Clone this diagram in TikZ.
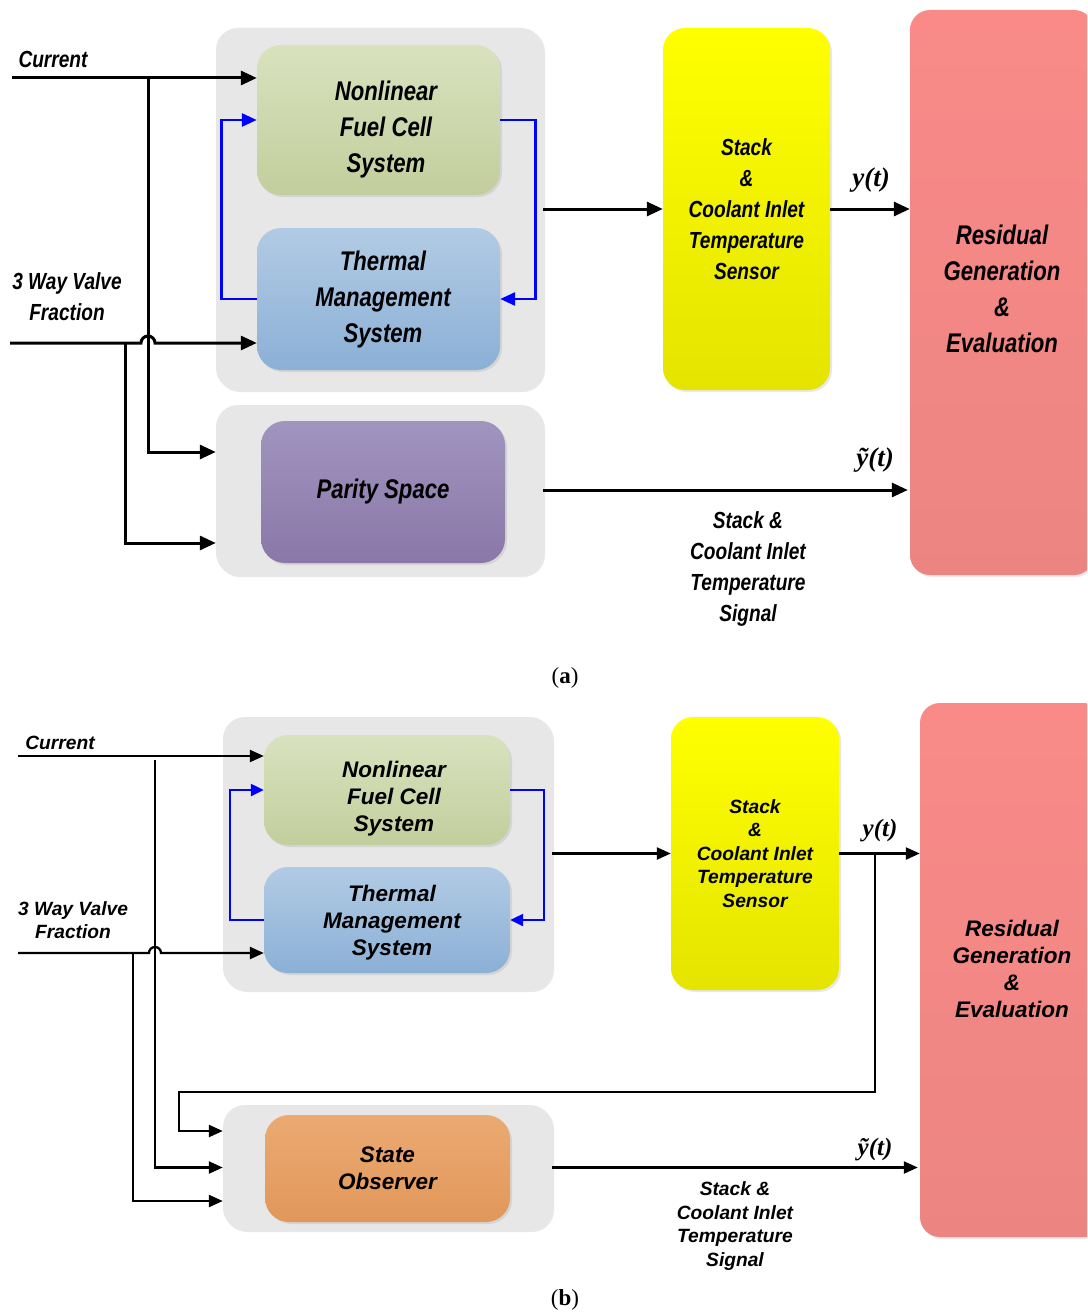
\documentclass[tikz,border=0pt]{standalone}
\usepackage{fontspec}
\setmainfont{Liberation Serif}
\newfontfamily\narrowsans{Liberation Sans}[FakeStretch=0.82]
\newfontfamily\widesans{Liberation Sans}
\usetikzlibrary{arrows.meta,calc,shadows}
\definecolor{contgray}{HTML}{E7E7E7}
\definecolor{grtop}{HTML}{D8E2BE}
\definecolor{grbot}{HTML}{C3CE9D}
\definecolor{bltop}{HTML}{B2CBE4}
\definecolor{blbot}{HTML}{8BB0D6}
\definecolor{putop}{HTML}{A194BF}
\definecolor{pubot}{HTML}{8A78A8}
\definecolor{yetop}{HTML}{FFFF00}
\definecolor{yebot}{HTML}{E4E400}
\definecolor{retop}{HTML}{F98A88}
\definecolor{rebot}{HTML}{EC8582}
\definecolor{ortop}{HTML}{EAAA72}
\definecolor{orbot}{HTML}{E2975A}
\definecolor{fbblue}{HTML}{0000FF}
\newcommand\fAbig{\narrowsans\bfseries\itshape\fontsize{27}{36}\selectfont}
\newcommand\fAsml{\narrowsans\bfseries\itshape\fontsize{23.3}{31}\selectfont}
\newcommand\fBbig{\widesans\bfseries\itshape\fontsize{22.5}{27}\selectfont}
\newcommand\fBsml{\widesans\bfseries\itshape\fontsize{19.2}{23.5}\selectfont}
\newcommand\fYlab{\rmfamily\bfseries\itshape\fontsize{27}{30}\selectfont}
\tikzset{
  cont/.style={fill=contgray, rounded corners=22pt, inner sep=0pt,
    drop shadow={shadow xshift=2pt, shadow yshift=-2pt, opacity=0.18}},
  blk/.style={rounded corners=24pt, inner sep=0pt, align=center,
    drop shadow={shadow xshift=2pt, shadow yshift=-2pt, opacity=0.18}},
  greenb/.style={blk, top color=grtop, bottom color=grbot},
  blueb/.style={blk, top color=bltop, bottom color=blbot},
  purpb/.style={blk, top color=putop, bottom color=pubot},
  yelb/.style={blk, top color=yetop, bottom color=yebot, rounded corners=22pt},
  redb/.style={blk, top color=retop, bottom color=rebot, rounded corners=20pt},
  orab/.style={blk, top color=ortop, bottom color=orbot},
  txtA/.style={font=\fAbig, align=center, inner sep=0pt},
  txtB/.style={font=\fBbig, align=center, inner sep=0pt},
  connA/.style={line width=3pt, -{Triangle[length=16pt,width=14pt]}},
  fbA/.style={line width=2.7pt, draw=fbblue, -{Triangle[length=15pt,width=13pt,fill=fbblue]}},
  connB/.style={line width=2.3pt, -{Triangle[length=14pt,width=12pt]}},
  fbB/.style={line width=2.3pt, draw=fbblue, -{Triangle[length=13pt,width=12pt,fill=fbblue]}},
  lblA/.style={font=\fAsml, align=center, inner sep=0pt},
  lblB/.style={font=\fBsml, align=center, inner sep=0pt},
  ylab/.style={font=\fYlab, inner sep=0pt},
  capt/.style={font=\rmfamily\fontsize{23}{26}\selectfont, inner sep=0pt}
}
\begin{document}
\begin{tikzpicture}[x=1pt,y=-1pt]
\useasboundingbox (0,0) rectangle (1087,1316);
\fill[white] (0,0) rectangle (1087,1316);

% ================= (a) =================
\node[cont, minimum width=327, minimum height=362] (cA1) at (379.5,209) {};
\node[cont, minimum width=327, minimum height=170] (cA2) at (379.5,490) {};
\node[greenb, minimum width=243, minimum height=150] (nfcA) at (378.5,120) {};
\node[txtA] (nfcAt) at (386,130) {Nonlinear\\Fuel Cell\\System};
\node[blueb, minimum width=243, minimum height=142] (tmsA) at (378.5,299) {};
\node[txtA] (tmsAt) at (383,300) {Thermal\\Management\\System};
\node[purpb, minimum width=244, minimum height=142, font=\fAbig] (psA) at (383,492) {Parity Space};
\node[yelb, minimum width=167, minimum height=362, font=\fAsml] (sensA) at (746.5,209) {Stack\\\&\\Coolant Inlet\\Temperature\\Sensor};
\begin{scope}
\clip (0,0) rectangle (1087,1316);
\node[redb, minimum width=184, minimum height=565] (resA) at (1002,292.5) {};
\end{scope}
\node[txtA] (resAt) at (1002,289) {Residual\\Generation\\\&\\Evaluation};

\coordinate (inCurA) at (12,78);
\coordinate (inValA) at (10,343);
\coordinate (brA) at (148,78);
\coordinate (brA2) at (125,343);

\node[lblA, anchor=base] (curA) at (53,68) {Current};
\node[lblA] (valA) at (67,297) {3 Way Valve\\Fraction};

\draw[connA] (inCurA) -- (inCurA -| nfcA.west);
\draw[connA] (brA) |- ($(cA2.west)+(0,-38)$);
\draw[connA] (inValA) -- ($(brA |- inValA)+(-7,0)$) arc[start angle=180, end angle=360, radius=7] -- (inValA -| tmsA.west);
\draw[connA] (brA2) |- ($(cA2.west)+(0,53)$);
\draw[fbA] (tmsA.west) -- ++(-35,0) |- (nfcA.west);
\draw[fbA] (nfcA.east) -- ++(35,0) |- (tmsA.east);
\draw[connA] (cA1.east) -- (sensA.west);
\draw[connA] (sensA.east) -- (sensA.east -| resA.west);
\draw[connA] (cA2.east) -- ($(cA2.east -| resA.west)+(-2,0)$);

\node[ylab] (yA) at (871,180) {y(t)};
\node[ylab] (ytA) at (875,460) {ỹ(t)};
\node[lblA] (sigA) at (748,569) {Stack \&\\Coolant Inlet\\Temperature\\Signal};
\node[capt] (capA) at (565,678) {(\textbf{a})};

% ================= (b) =================
\node[cont, minimum width=329, minimum height=273] (cB1) at (387.5,853.5) {};
\node[cont, minimum width=329, minimum height=125] (cB2) at (387.5,1167.5) {};
\node[greenb, minimum width=246, minimum height=110] (nfcB) at (387,790) {};
\node[txtB] (nfcBt) at (394,799) {Nonlinear\\Fuel Cell\\System};
\node[blueb, minimum width=246, minimum height=106] (tmsB) at (387,920) {};
\node[txtB] (tmsBt) at (392,923) {Thermal\\Management\\System};
\node[orab, minimum width=245, minimum height=107, font=\fBbig] (soB) at (387.5,1168.5) {State\\Observer};
\node[yelb, minimum width=168, minimum height=273, font=\fBsml] (sensB) at (755,853.5) {Stack\\\&\\Coolant Inlet\\Temperature\\Sensor};
\begin{scope}
\clip (0,0) rectangle (1087,1316);
\node[redb, minimum width=184, minimum height=534] (resB) at (1012,970) {};
\end{scope}
\node[txtB] (resBt) at (1012,969) {Residual\\Generation\\\&\\Evaluation};

\coordinate (inCurB) at (18,756);
\coordinate (inValB) at (18,953);
\coordinate (brB) at (155,760);
\coordinate (brB2) at (133,953);
\coordinate (tapB) at (875,853.5);
\coordinate (turnB) at (179,1092);

\node[lblB, anchor=base] (curB) at (60,749) {Current};
\node[lblB] (valB) at (73,920) {3 Way Valve\\Fraction};

\draw[connB] (inCurB) -- (inCurB -| nfcB.west);
\draw[connB] (brB) |- (cB2.west);
\draw[connB] (inValB) -- ($(brB |- inValB)+(-6,0)$) arc[start angle=180, end angle=360, radius=6] -- (inValB -| tmsB.west);
\draw[connB] (brB2) |- ($(cB2.west)+(0,33.5)$);
\draw[fbB] (tmsB.west) -- ++(-34,0) |- (nfcB.west);
\draw[fbB] (nfcB.east) -- ++(34,0) |- (tmsB.east);
\draw[connB] (cB1.east) -- (sensB.west);
\draw[connB] (sensB.east) -- (sensB.east -| resB.west);
\draw[connB] (tapB) |- (turnB) |- ($(cB2.west)+(0,-36.5)$);
\draw[connB] (cB2.east) -- ($(cB2.east -| resB.west)+(-2,0)$);

\node[ylab, font=\rmfamily\bfseries\itshape\fontsize{25}{28}\selectfont] (yB) at (880,831) {y(t)};
\node[ylab, font=\rmfamily\bfseries\itshape\fontsize{25}{28}\selectfont] (ytB) at (875,1150) {ỹ(t)};
\node[lblB] (sigB) at (735,1226) {Stack \&\\Coolant Inlet\\Temperature\\Signal};
\node[capt] (capB) at (565,1300) {(\textbf{b})};
\end{tikzpicture}
\end{document}
